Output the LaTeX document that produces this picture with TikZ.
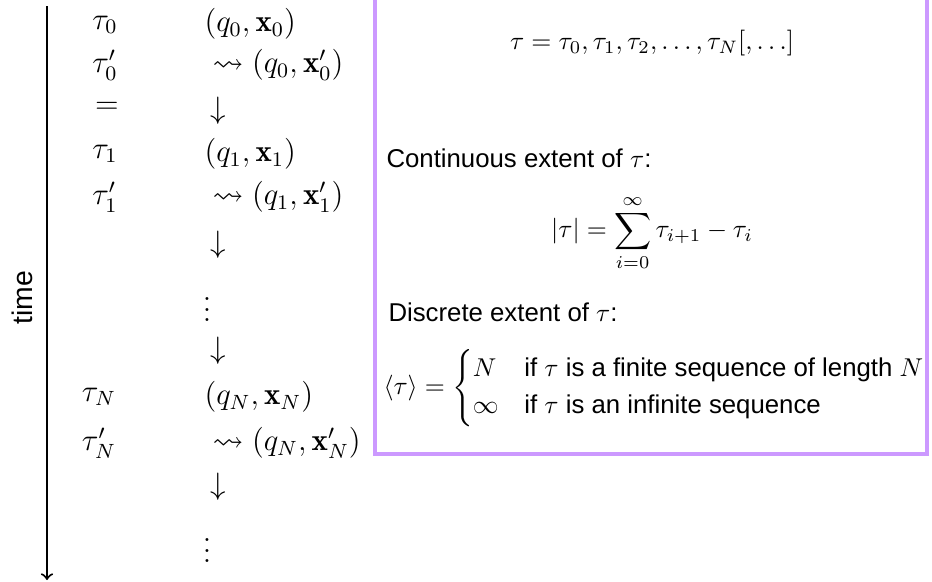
\documentclass[tikz,border=0pt]{standalone}
\usepackage{amsmath,amssymb}
\usepackage{fontspec}
\setsansfont{Liberation Sans}
\definecolor{violetcadre}{RGB}{204,153,255}

\begin{document}
\begin{tikzpicture}[x=0.388pt,y=-0.388pt,
    instant/.style={inner sep=0pt,font=\large},
    etat/.style={inner sep=0pt,anchor=west,font=\large},
    texte/.style={inner sep=0pt,anchor=west,font=\sffamily}]

    \useasboundingbox (0,0) rectangle (932,581);

    % L'axe du temps (de haut en bas)
    \coordinate (T0) at (47,6);
    \coordinate (T1) at (47,580);
    \draw[line width=0.8pt,->] (T0) -- (T1);
    \node[rotate=90,inner sep=0pt,font=\sffamily\fontsize{11}{13}\selectfont] (temps) at (22,298) {time};

    % Colonne des instants
    \node[instant] (tau0) at (105,25) {$\tau_0$};
    \node[instant] (tau0p) at (105,65) {$\tau'_0$};
    \node[instant] (egal) at (107,108) {$=$};
    \node[instant] (tau1) at (105,154) {$\tau_1$};
    \node[instant] (tau1p) at (105,197) {$\tau'_1$};
    \node[instant] (tauN) at (99,397) {$\tau_N$};
    \node[instant] (tauNp) at (99,443) {$\tau'_N$};

    % Colonne des etats (q, x)
    \node[etat] (s0) at (204,24) {$(q_0,\mathbf{x}_0)$};
    \node[etat] (s0p) at (212,65) {$\leadsto(q_0,\mathbf{x}'_0)$};
    \node[instant] (f0) at (218,111) {$\downarrow$};
    \node[etat] (s1) at (204,154) {$(q_1,\mathbf{x}_1)$};
    \node[etat] (s1p) at (212,197) {$\leadsto(q_1,\mathbf{x}'_1)$};
    \node[instant] (f1) at (218,245) {$\downarrow$};
    \node[instant] (pts1) at (207,302) {$\vdots$};
    \node[instant] (f2) at (218,351) {$\downarrow$};
    \node[etat] (sN) at (204,397) {$(q_N,\mathbf{x}_N)$};
    \node[etat] (sNp) at (212,443) {$\leadsto(q_N,\mathbf{x}'_N)$};
    \node[instant] (fN) at (218,487) {$\downarrow$};
    \node[instant] (pts2) at (207,543) {$\vdots$};

    % Le cadre des definitions
    \coordinate (B1) at (375,-2);
    \coordinate (B2) at (927,454);
    \draw[violetcadre,line width=1.5pt] (B1) rectangle (B2);

    \node[inner sep=0pt] (seq) at (652,43) {$\tau = \tau_0, \tau_1, \tau_2, \ldots, \tau_N[, \ldots]$};
    \node[texte] (cont) at (386,158) {Continuous extent of $\tau$:};
    \node[inner sep=0pt] (somme) at (652,233) {$\displaystyle |\tau| = \sum_{i=0}^{\infty} \tau_{i+1} - \tau_i$};
    \node[texte] (disc) at (388,312) {Discrete extent of $\tau$:};
    \node[inner sep=0pt,anchor=west] (cas) at (383,388) {$\langle\tau\rangle = \begin{cases}
        N & \text{\sffamily if $\tau$ is a finite sequence of length $N$}\\
        \infty & \text{\sffamily if $\tau$ is an infinite sequence}
      \end{cases}$};

\end{tikzpicture}
\end{document}
